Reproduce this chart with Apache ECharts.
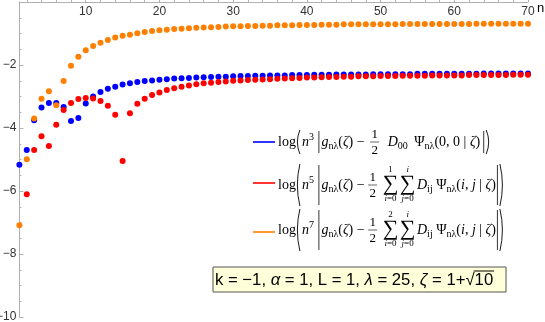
<!DOCTYPE html>
<html lang="en">
<head>
<meta charset="UTF-8">
<title>log error vs n</title>
<script src="https://cdn.jsdelivr.net/npm/echarts@6/dist/echarts.min.js"></script>
<style>html,body{margin:0;padding:0;background:#fff}</style>
</head>
<body>
<div id="main" style="width:545px;height:322px;"></div>
<script>
// values, n = 1..70
var blueVals = [-5.17,-4.70,-3.75,-3.35,-3.21,-3.21,-3.33,-3.78,-3.68,-3.22,
  -3.00,-2.86,-2.75,-2.69,-2.62,-2.58,-2.54,-2.51,-2.49,-2.47,
  -2.45,-2.43,-2.42,-2.41,-2.40,-2.39,-2.38,-2.37,-2.37,-2.36,
  -2.35,-2.35,-2.34,-2.34,-2.33,-2.33,-2.33,-2.32,-2.32,-2.32,
  -2.31,-2.31,-2.31,-2.30,-2.30,-2.30,-2.30,-2.30,-2.29,-2.29,
  -2.29,-2.29,-2.29,-2.29,-2.28,-2.28,-2.28,-2.28,-2.28,-2.28,
  -2.28,-2.28,-2.28,-2.27,-2.27,-2.27,-2.27,-2.27,-2.27,-2.27];
var redVals = [null,-6.10,-4.70,-4.26,-4.57,-3.90,-3.43,-3.21,-3.08,-3.05,
  -3.06,-3.14,-3.29,-3.58,-5.05,-3.53,-3.23,-3.07,-2.95,-2.87,
  -2.79,-2.74,-2.69,-2.65,-2.61,-2.58,-2.56,-2.54,-2.52,-2.50,
  -2.49,-2.48,-2.47,-2.46,-2.45,-2.44,-2.43,-2.42,-2.41,-2.40,
  -2.40,-2.39,-2.38,-2.38,-2.37,-2.37,-2.36,-2.36,-2.36,-2.35,
  -2.35,-2.35,-2.34,-2.34,-2.34,-2.34,-2.33,-2.33,-2.33,-2.33,
  -2.33,-2.32,-2.32,-2.32,-2.32,-2.32,-2.32,-2.31,-2.31,-2.31];
var orangeVals = [-7.09,-4.99,-3.70,-3.07,-2.83,-3.28,-2.51,-2.02,-1.74,-1.53,
  -1.40,-1.29,-1.21,-1.13,-1.07,-1.04,-0.99,-0.95,-0.92,-0.90,
  -0.88,-0.86,-0.85,-0.83,-0.82,-0.81,-0.80,-0.79,-0.78,-0.77,
  -0.77,-0.76,-0.76,-0.75,-0.75,-0.74,-0.74,-0.74,-0.73,-0.73,
  -0.73,-0.72,-0.72,-0.72,-0.71,-0.71,-0.71,-0.71,-0.71,-0.71,
  -0.71,-0.71,-0.70,-0.70,-0.70,-0.70,-0.70,-0.70,-0.70,-0.70,
  -0.70,-0.70,-0.69,-0.69,-0.69,-0.69,-0.69,-0.69,-0.69,-0.69];
var xLabels = [10, 20, 30, 40, 50, 60, 70];
var xMinor = [2, 4, 6, 8, 12, 14, 16, 18, 22, 24, 26, 28, 32, 34, 36, 38, 42, 44, 46, 48, 52, 54, 56, 58, 62, 64, 66, 68];
var colors = ['#0000ff', '#ff0000', '#ff8000'];

function pairs(vals) {
  var out = [];
  for (var i = 0; i < vals.length; i++) {
    if (vals[i] != null) out.push([i + 1, vals[i]]);
  }
  return out;
}

var SERIF = '"Liberation Serif", "Times New Roman", serif';
var SANS = '"Liberation Sans", Arial, sans-serif';
var ctx = document.createElement('canvas').getContext('2d');
function textW(s, size, italic, fam) {
  ctx.font = (italic ? 'italic ' : '') + size + 'px ' + (fam || SERIF);
  return ctx.measureText(s).width;
}

var els = [];
function addText(s, x, y, size, italic, align) {
  els.push({type: 'text', x: x, y: y, z: 100, silent: true,
    style: {text: s, fontFamily: SERIF, fontSize: size, fontStyle: italic ? 'italic' : 'normal',
      fill: '#000', textAlign: align || 'left', textVerticalAlign: 'middle'}});
}
function addLine(x1, y1, x2, y2, color, w) {
  els.push({type: 'line', z: 100, silent: true, shape: {x1: x1, y1: y1, x2: x2, y2: y2},
    style: {stroke: color || '#000', lineWidth: w || 0.8}});
}
function addParen(x, y, h, right) {
  var a = right ? x : x + 4, c = right ? x + 5 : x - 1;
  els.push({type: 'bezierCurve', z: 100, silent: true,
    shape: {x1: a, y1: y - h / 2, x2: a, y2: y + h / 2, cpx1: c, cpy1: y},
    style: {stroke: '#000', lineWidth: 0.9, fill: null}});
}

// little math layout: pieces placed left to right
var BASE = 14;
function T(s) { return {s: s}; }
function I(s) { return {s: s, i: true}; }
function SUB(s) { return {s: s, size: 10, dy: 4}; }
function SUP(s) { return {s: s, size: 10, dy: -5}; }
function P(h, r) { return {t: 'paren', h: h, r: r}; }
function BAR(h) { return {t: 'bar', h: h}; }
function G(w) { return {t: 'gap', w: w}; }
function FRAC() { return {t: 'frac'}; }
function SUM(up, upI, low) { return {t: 'sum', up: up, upI: upI, low: low}; }

function flow(items, x, y) {
  items.forEach(function (it) {
    var size = it.size || BASE;
    if (it.t === 'paren') {
      addParen(x, y, it.h, it.r); x += 6;
    } else if (it.t === 'bar') {
      addLine(x + 1.5, y - it.h / 2, x + 1.5, y + it.h / 2); x += 4;
    } else if (it.t === 'gap') {
      x += it.w;
    } else if (it.t === 'frac') {
      addText('1', x + 4.5, y - 7.5, 13, false, 'center');
      addLine(x, y, x + 9, y, '#000', 0.6);
      addText('2', x + 4.5, y + 8.5, 13, false, 'center');
      x += 11;
    } else if (it.t === 'sum') {
      var w = textW('\u2211', 22);
      addText('\u2211', x, y - 1, 22, false, 'left');
      addText(it.up, x + w / 2, y - 15, 9, it.upI, 'center');
      els.push({type: 'text', x: x + w / 2, y: y + 14, z: 100, silent: true,
        style: {text: '{v|' + it.low[0] + '}{n|' + it.low.slice(1) + '}', textAlign: 'center', textVerticalAlign: 'middle',
          rich: {v: {fontFamily: SERIF, fontSize: 9, fontStyle: 'italic', fill: '#000'},
                 n: {fontFamily: SERIF, fontSize: 9, fill: '#000'}}}});
      x += w + 1.5;
    } else {
      addText(it.s, x, y + (it.dy || 0), size, it.i);
      x += textW(it.s, size, it.i);
    }
  });
  return x;
}

// legend
var legendY = [142, 185, 230];
var lineY = [142, 183, 232];
lineY.forEach(function (ly, k) { addLine(253, ly, 275, ly, colors[k], 1.6); });

flow([T('log'), P(24), I('n'), SUP('3'), T(' '), BAR(22), I('g'), SUB('n\u03bb'), T('('), I('\u03b6'), T(') \u2212 '), G(2),
  FRAC(), G(3), T(' '), I('D'), SUB('00'), G(3), T(' \u03a8'), SUB('n\u03bb'), T('(0, 0 | '), I('\u03b6'), T(')'), G(2),
  BAR(22), P(24, true)],
  278, legendY[0]);

function sumLine(top, y) {
  flow([T('log'), P(42), I('n'), SUP(top === '1' ? '5' : '7'), T(' '), BAR(40), I('g'), SUB('n\u03bb'), T('('), I('\u03b6'), T(') \u2212 '),
    FRAC(), T(' '), SUM(top, false, 'i=0'), SUM('i', true, 'j=0'), I('D'), SUB('ij'), T(' \u03a8'), SUB('n\u03bb'),
    T('('), I('i'), T(', '), I('j'), T(' | '), I('\u03b6'), T(')'), BAR(40), P(42, true)], 278, y);
}
sumLine('1', legendY[1]);
sumLine('2', legendY[2]);

// parameter box
var boxX = 213, boxY = 267, boxW = 293, boxH = 25, tx = 215, ty = 280, FS = 16.7;
els.push({type: 'rect', z: 99, silent: true, shape: {x: boxX, y: boxY, width: boxW, height: boxH},
  style: {fill: '#ffffd9', stroke: '#555', lineWidth: 1}});
var boxRich = {
  n: {fontFamily: SANS, fontSize: FS, fill: '#000'},
  i: {fontFamily: SANS, fontSize: FS, fontStyle: 'italic', fill: '#000'}
};
els.push({type: 'text', z: 100, silent: true, x: tx, y: ty,
  style: {text: '{n|k = \u22121, }{i|\u03b1}{n| = 1, L = 1, }{i|\u03bb}{n| = 25, }{i|\u03b6}{n| = 1+\u221a10}',
    textVerticalAlign: 'middle', rich: boxRich}});
var before = textW('k = \u22121, ', FS, false, SANS) + textW('\u03b1', FS, true, SANS) + textW(' = 1, L = 1, ', FS, false, SANS)
  + textW('\u03bb', FS, true, SANS) + textW(' = 25, ', FS, false, SANS) + textW('\u03b6', FS, true, SANS)
  + textW(' = 1+\u221a', FS, false, SANS);
addLine(tx + before - 1, ty - 9, tx + before + textW('10', FS, false, SANS) + 1, ty - 9, '#000', 1);

// x axis name
addText('n', 537, 8, 13, false, 'left');
els[els.length - 1].style.fontFamily = SANS;

var chart = echarts.init(document.getElementById('main'));
var option = {
  animation: false,
  backgroundColor: '#fff',
  grid: {left: 19.4, right: 17, top: 2, bottom: 5, outerBoundsMode: 'none', containLabel: false},
  xAxis: [{
    type: 'value', position: 'top', min: 1, max: 70,
    axisLine: {show: true, lineStyle: {color: '#b0b0b0'}},
    axisTick: {show: true, customValues: xLabels, length: 4, lineStyle: {color: '#b0b0b0'}},
    axisLabel: {inside: true, margin: 4, customValues: xLabels, color: '#333', fontFamily: SANS, fontSize: 12},
    splitLine: {show: false}
  }, {
    type: 'value', position: 'top', min: 1, max: 70,
    axisLine: {show: false},
    axisTick: {show: true, customValues: xMinor, length: 2, lineStyle: {color: '#b0b0b0'}},
    axisLabel: {show: false},
    splitLine: {show: false}
  }],
  yAxis: {
    type: 'value', min: -10, max: 0, interval: 2,
    axisLine: {show: true, lineStyle: {color: '#b0b0b0'}},
    axisTick: {show: true, inside: true, length: 4, lineStyle: {color: '#b0b0b0'}},
    minorTick: {show: true, splitNumber: 4, length: 2, lineStyle: {color: '#b0b0b0'}},
    axisLabel: {margin: 3, color: '#333', fontFamily: SANS, fontSize: 12,
      formatter: function (v) { return v === 0 ? '' : String(v).replace('-', '\u2212'); }},
    splitLine: {show: false}
  },
  series: [
    {name: 'blue', type: 'scatter', data: pairs(blueVals), symbolSize: 6, itemStyle: {color: colors[0], opacity: 1}},
    {name: 'red', type: 'scatter', data: pairs(redVals), symbolSize: 6, itemStyle: {color: colors[1], opacity: 1}},
    {name: 'orange', type: 'scatter', data: pairs(orangeVals), symbolSize: 6, itemStyle: {color: colors[2], opacity: 1}}
  ],
  graphic: els
};
chart.setOption(option);
</script>
</body>
</html>
